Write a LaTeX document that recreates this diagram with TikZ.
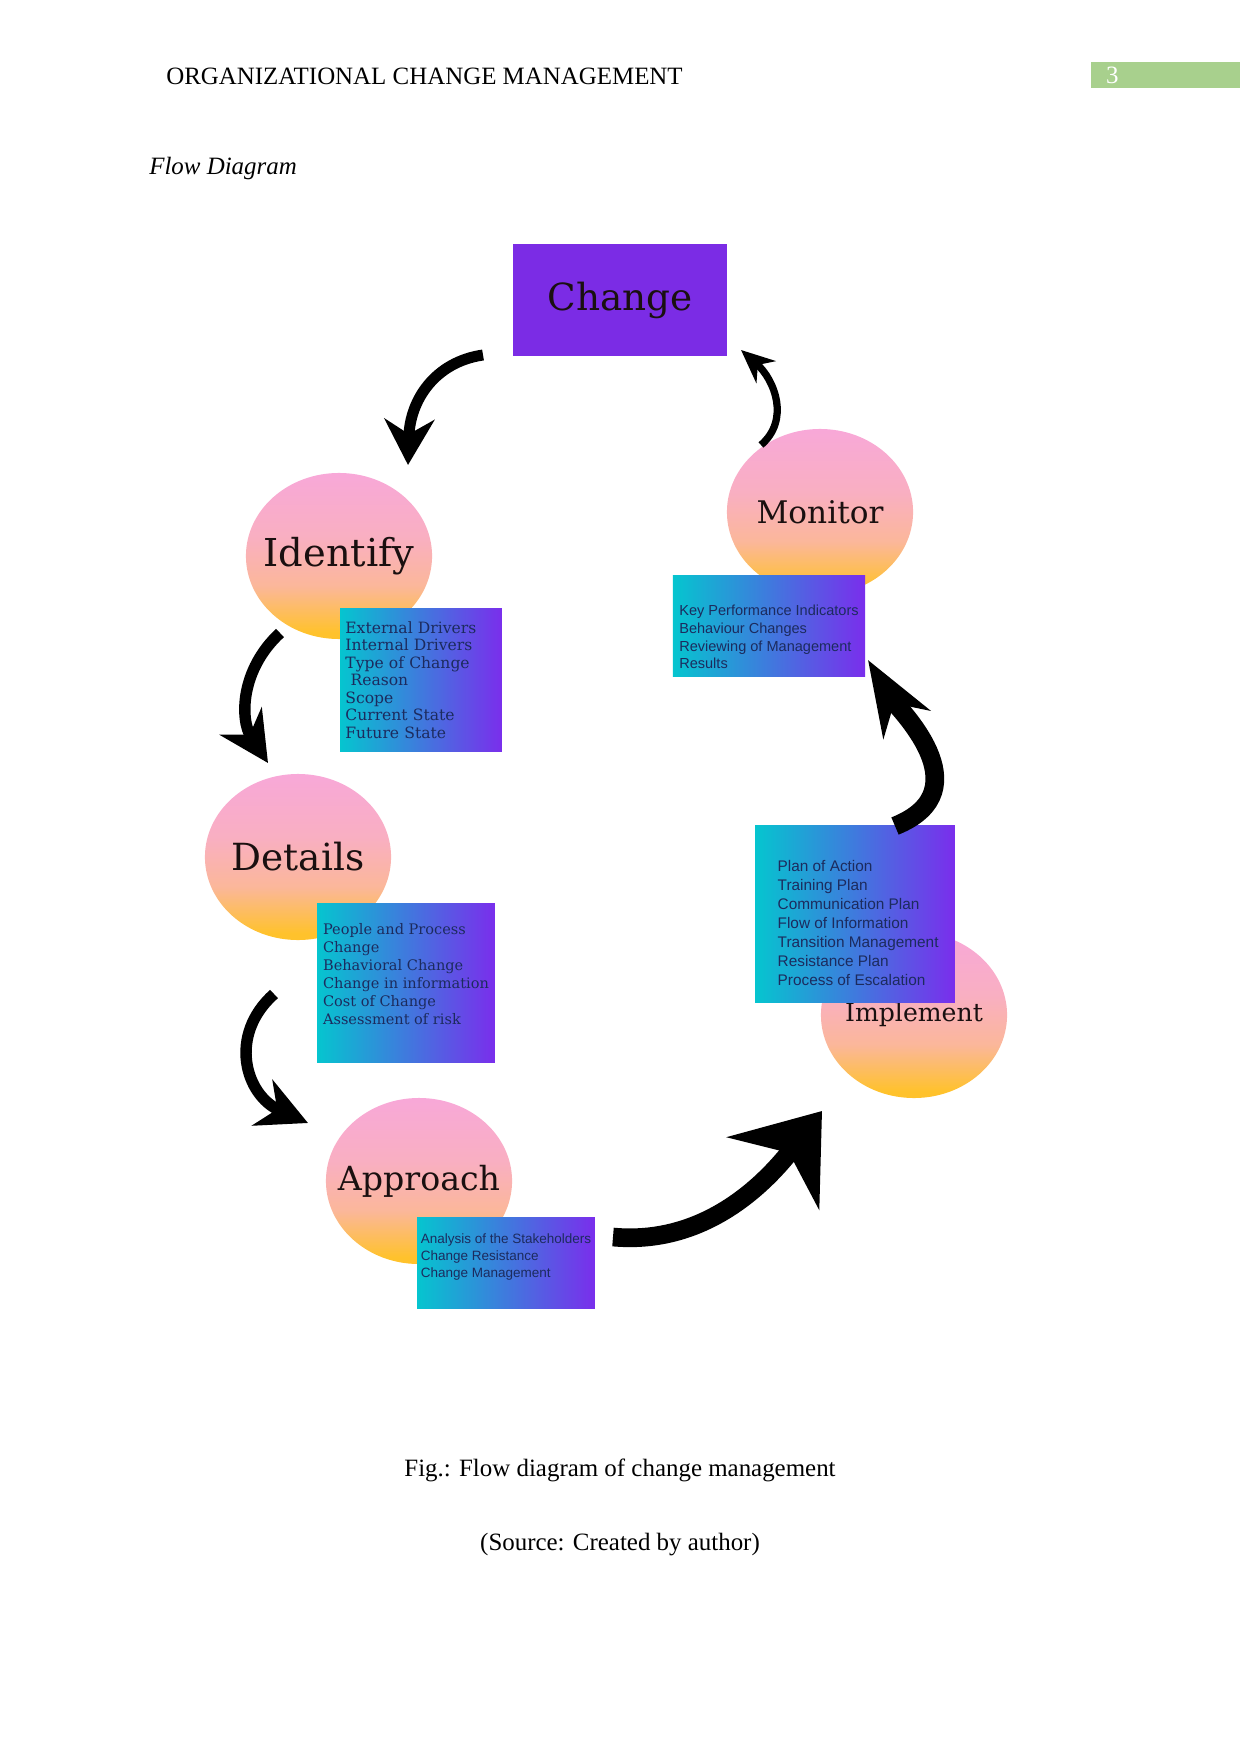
\documentclass[tikz,border=0pt]{standalone}
\usepackage{fontspec}
\setmainfont{Liberation Serif}
\newfontfamily\slabfont{DejaVu Serif}
\newfontfamily\plainsans{Liberation Sans}
\usepackage{tikz}
\usetikzlibrary{shapes.geometric,arrows.meta}
\definecolor{Violet}{HTML}{7B2CE5}
\definecolor{Teal}{HTML}{05C5CF}
\definecolor{Purple}{HTML}{7A2EEC}
\definecolor{Blush}{HTML}{F8A8D8}
\definecolor{Rose}{HTML}{F9AFC2}
\definecolor{Peach}{HTML}{FBB79A}
\definecolor{Amber}{HTML}{FFC22C}
\definecolor{Ink}{HTML}{1A1010}
\definecolor{Navy}{HTML}{1C2B5E}
\definecolor{Leaf}{HTML}{A8D08D}
\pgfdeclareverticalshading{stageshade}{100bp}{
	color(0bp)=(Amber); color(27bp)=(Amber); color(41bp)=(Peach);
	color(56bp)=(Rose); color(75bp)=(Blush); color(100bp)=(Blush)}

\begin{document}
\begin{tikzpicture}[
	x=0.01692cm, y=-0.01692cm,
	stage/.style 2 args={
		ellipse,
		inner sep=0pt,
		minimum width=3.15cm,
		minimum height=2.81cm,
		shade,
		shading=stageshade,
		label={[text=Ink, font=\slabfont\fontsize{#1}{20}\selectfont]center:#2}
	},
	infobox/.style 2 args={
		rectangle,
		inner sep=0pt,
		minimum width=#1,
		minimum height=#2,
		left color=Teal,
		right color=Purple,
		text=Navy,
		align=left
	},
	serifinfo/.style={font=\slabfont\fontsize{7}{8.6}\selectfont},
	sansinfo/.style={font=\plainsans\fontsize{7}{8.5}\selectfont},
	brush/.style n args={3}{
		line width=#1,
		-{Stealth[length=#2,width=#3]}
	}
	]
	
	\useasboundingbox (0,0) rectangle (1241,1754);
	
	% ---------------------------------------------------------
	% PAGE HEADER
	% ---------------------------------------------------------
	
	\node[anchor=base west, font=\fontsize{12}{14}\selectfont]
	(header) at (159,85)
	{ORGANIZATIONAL CHANGE MANAGEMENT};
	
	\node[
	fill=Leaf,
	anchor=north west,
	inner xsep=0.25cm,
	inner ysep=0pt,
	text width=2.02cm,
	minimum height=0.44cm,
	align=left,
	text=white,
	font=\fontsize{12}{14}\selectfont
	]
	(pagenum) at (1091,62)
	{3};
	
	\node[anchor=base west, font=\itshape\fontsize{12}{14}\selectfont]
	(title) at (142,175)
	{Flow Diagram};
	
	% ---------------------------------------------------------
	% CHANGE
	% ---------------------------------------------------------
	
	\node[
	fill=Violet,
	minimum width=3.62cm,
	minimum height=1.91cm,
	text=Ink,
	font=\slabfont\fontsize{18}{20}\selectfont
	]
	(change) at (620,300)
	{Change};
	
	% ---------------------------------------------------------
	% STAGES
	% ---------------------------------------------------------
	
	\node[stage={18.5}{Identify}] (identify) at (339,556) {};
	
	\node[stage={15}{Monitor}] (monitor) at (820,512) {};
	
	\node[stage={18}{Details}] (details) at (298,857) {};
	
	\node[stage={16}{Approach}] (approach) at (419,1181) {};
	
	\node[stage={12.1}{Implement}] (implement) at (914,1015) {};
	
	% ---------------------------------------------------------
	% INFO BOXES
	% ---------------------------------------------------------
	
	\node[infobox={2.74cm}{2.42cm}, inner xsep=0.09cm, text width=2.56cm,
	font=\slabfont\fontsize{7.5}{8.45}\selectfont]
	(identifybox) at (421,680)
	{External Drivers\\Internal Drivers\\Type of Change\\\ Reason\\Scope\\Current State\\Future State};
	
	\node[infobox={3.25cm}{1.71cm}, sansinfo]
	(monitorbox) at (769,626)
	{\rule{0pt}{15.8pt}Key Performance Indicators\\Behaviour Changes\\Reviewing of Management\\Results};
	
	\node[infobox={3.01cm}{2.69cm}, serifinfo]
	(detailsbox) at (406,983)
	{People and Process\\Change\\Behavioral Change\\Change in information\\Cost of Change\\Assessment of risk\rule[-8.6pt]{0pt}{8.6pt}};
	
	\node[infobox={3.01cm}{1.54cm}, font=\plainsans\fontsize{6.5}{8.1}\selectfont]
	(approachbox) at (506,1263)
	{Analysis of the Stakeholders\\Change Resistance\\Change Management\rule[-7pt]{0pt}{7pt}};
	
	\node[infobox={3.38cm}{2.98cm}, font=\plainsans\fontsize{7.4}{9.1}\selectfont]
	(implementbox) at (855,914)
	{\rule{0pt}{14pt}\hspace{3pt}Plan of Action\\\hspace{3pt}Training Plan\\\hspace{3pt}Communication Plan\\\hspace{3pt}Flow of Information\\\hspace{3pt}Transition Management\\\hspace{3pt}Resistance Plan\\\hspace{3pt}Process of Escalation};
	
	% ---------------------------------------------------------
	% ARROWS
	% ---------------------------------------------------------
	
	\coordinate (a1s) at (483,355);
	\coordinate (a1e) at (408,465);
	\coordinate (a2s) at (280,633);
	\coordinate (a2e) at (268,763);
	\coordinate (a3s) at (274,994);
	\coordinate (a3e) at (308,1123);
	\coordinate (a4s) at (613,1237);
	\coordinate (a4e) at (822,1111);
	\coordinate (a5s) at (895,826);
	\coordinate (a5e) at (868,660);
	\coordinate (a6s) at (761,445);
	\coordinate (a6e) at (741,350);
	
	\draw[brush={5.3pt}{22pt}{24pt}]
	(a1s) .. controls (435,362) and (410,400) .. (a1e);
	
	\draw[brush={5.5pt}{24pt}{24pt}]
	(a2s) .. controls (240,670) and (240,720) .. (a2e);
	
	\draw[brush={5.5pt}{24pt}{24pt}]
	(a3s) .. controls (228,1035) and (245,1095) .. (a3e);
	
	\draw[brush={9pt}{38pt}{56pt}]
	(a4s) .. controls (700,1245) and (760,1190) .. (a4e);
	
	\draw[brush={9pt}{36pt}{26pt}]
	(a5s) .. controls (985,790) and (895,705) .. (a5e);
	
	\draw[brush={3.5pt}{16pt}{14pt}]
	(a6s) .. controls (790,420) and (775,380) .. (a6e);
	
	% ---------------------------------------------------------
	% CAPTION
	% ---------------------------------------------------------
	
	\node[anchor=base, font=\fontsize{12}{14}\selectfont]
	(caption) at (620,1476)
	{Fig.: Flow diagram of change management};
	
	\node[anchor=base, font=\fontsize{12}{14}\selectfont]
	(source) at (620,1550)
	{(Source: Created by author)};
	
\end{tikzpicture}
\end{document}
